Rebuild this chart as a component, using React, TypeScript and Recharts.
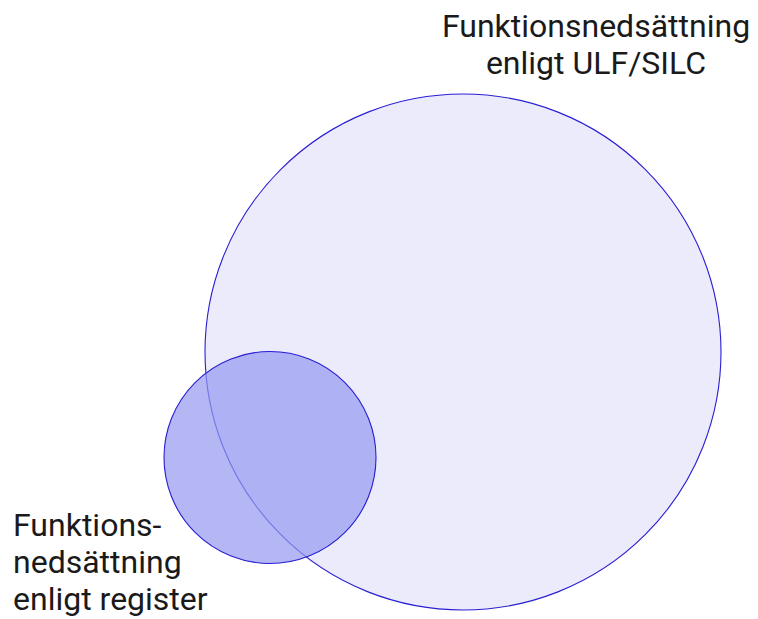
import { ScatterChart, Scatter, XAxis, YAxis } from 'recharts'

// chart space: 1 unit = 1 px, origin at the top-left of the plot
const CHART_W = 742
const CHART_H = 611
const X_DOMAIN: [number, number] = [0, CHART_W]
const Y_DOMAIN: [number, number] = [0, CHART_H]

const circleNames = ['ULF/SILC', 'Register']
const circleX = [455, 262]
const circleY = [344, 449.5]
const circleR = [258, 106]
const circleFill = ['#ebebfc', '#9498f0']
const circleFillOpacity = [1, 0.7]

const labelX = [588, 5]
const labelY = [29, 528]
const labelLines = [
  ['Funktionsnedsättning', 'enligt ULF/SILC'],
  ['Funktions-', 'nedsättning', 'enligt register'],
]
const labelAnchor = ['middle', 'start']

const PX_PER_UNIT = CHART_W / (X_DOMAIN[1] - X_DOMAIN[0])
const LINE_HEIGHT = 37

const circles = circleNames.map((name, i) => ({
  name,
  x: circleX[i],
  y: circleY[i],
  r: circleR[i],
  fill: circleFill[i],
  fillOpacity: circleFillOpacity[i],
}))

const labels = labelLines.map((lines, i) => ({
  x: labelX[i],
  y: labelY[i],
  lines,
  anchor: labelAnchor[i],
}))

function CircleShape(props: any) {
  const { cx, cy, payload } = props
  return (
    <circle
      cx={cx}
      cy={cy}
      r={payload.r * PX_PER_UNIT}
      fill={payload.fill}
      fillOpacity={payload.fillOpacity}
      stroke="#2a1ed2"
      strokeWidth={1.1}
    />
  )
}

function LabelShape(props: any) {
  const { cx, cy, payload } = props
  return (
    <text
      x={cx}
      y={cy}
      textAnchor={payload.anchor}
      fontFamily="Roboto, sans-serif"
      fontSize={32}
      fill="#1a1a1a"
    >
      {payload.lines.map((line: string, i: number) => (
        <tspan key={line} x={cx} dy={i === 0 ? 0 : LINE_HEIGHT}>
          {line}
        </tspan>
      ))}
    </text>
  )
}

export default function App() {
  return (
    <ScatterChart
      width={CHART_W}
      height={CHART_H}
      margin={{ top: 0, right: 0, bottom: 0, left: 0 }}
    >
      <XAxis type="number" dataKey="x" domain={X_DOMAIN} hide />
      <YAxis type="number" dataKey="y" domain={Y_DOMAIN} reversed hide />
      {circles.map((c) => (
        <Scatter
          key={c.name}
          data={[c]}
          shape={<CircleShape />}
          isAnimationActive={false}
        />
      ))}
      <Scatter data={labels} shape={<LabelShape />} isAnimationActive={false} />
    </ScatterChart>
  )
}
